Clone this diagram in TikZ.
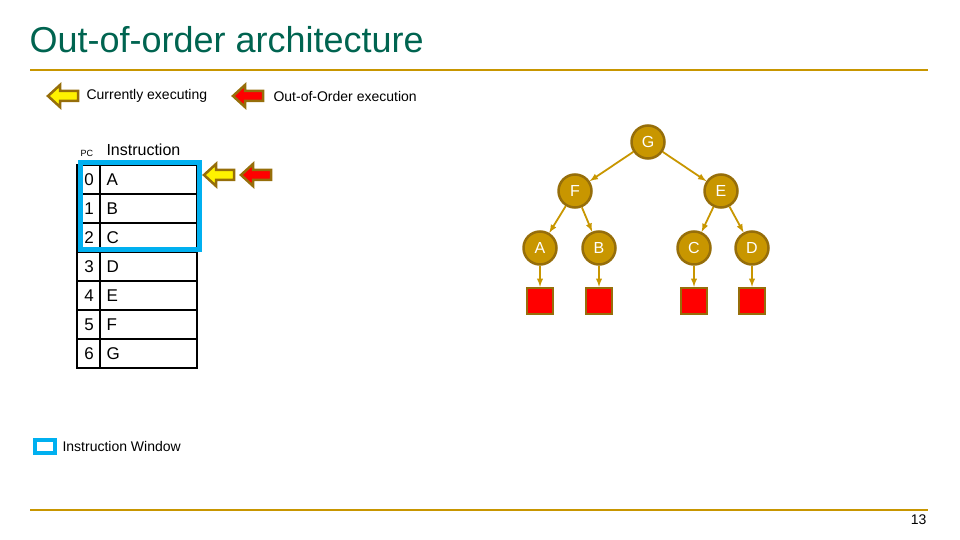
\documentclass[tikz,border=0pt]{standalone}
\usepackage{fontspec}
\setmainfont{Liberation Sans}
\usetikzlibrary{positioning}
\definecolor{gold}{RGB}{200,150,0}
\definecolor{rim}{RGB}{150,110,10}
\definecolor{winblue}{RGB}{0,176,240}
\newcommand{\larrow}[3]{% x, y, fill colour
  \filldraw[draw=rim,line width=2.5pt,fill=#3,line join=miter]
    (#1,#2) -- ++(12,-11) -- ++(0,6) -- ++(18,0) -- ++(0,10)
    -- ++(-18,0) -- ++(0,6) -- cycle;}
\begin{document}
\begin{tikzpicture}[x=1pt,y=-1pt,
  tnode/.style={circle,fill=gold,draw=rim,line width=2.5pt,minimum size=33pt,
    inner sep=0pt,text=white,font=\fontsize{16}{16}\selectfont},
  leaf/.style={rectangle,fill=red,draw=rim,line width=2.5pt,minimum size=26pt},
  edge/.style={gold,line width=1.8pt,-latex},
  cell/.style={draw=black,line width=1.5pt}]
\useasboundingbox (0,0) rectangle (960,540);
% title and rules
\node[anchor=west,font=\fontsize{36}{36}\selectfont,text={rgb,255:red,0;green,100;blue,80}] (title) at (26,40) {Out-of-order architecture};
\draw[gold,line width=2.5pt] (30,70) -- (928,70);
\draw[gold,line width=2.5pt] (30,510) -- (928,510);
\node[anchor=east,font=\fontsize{14}{14}\selectfont] (pg) at (930,520) {13};
% legend
\larrow{48}{96}{yellow}
\node[anchor=west,font=\fontsize{14}{14}\selectfont] (cur) at (83,96) {Currently executing};
\larrow{233}{96}{red}
\node[anchor=west,font=\fontsize{14}{14}\selectfont] (ooo) at (270,96) {Out-of-Order execution};
% table
\node[anchor=west,font=\fontsize{9}{9}\selectfont] (pc) at (77,153) {PC};
\node[anchor=west,font=\fontsize{16}{16}\selectfont] (ins) at (103,150) {Instruction};
\foreach \i/\l in {0/A,1/B,2/C,3/D,4/E,5/F,6/G}{
  \draw[cell] (77,165+29*\i) rectangle (197,194+29*\i);
  \draw[cell] (100,165+29*\i) -- (100,194+29*\i);
  \node[font=\fontsize{17}{17}\selectfont] (pc\i) at (89,179.5+29*\i) {\i};
  \node[anchor=west,font=\fontsize{17}{17}\selectfont] (in\i) at (103,179.5+29*\i) {\l};
}
\draw[winblue,line width=5pt] (80,163) rectangle (199,249);
\larrow{204}{175}{yellow}
\larrow{241}{175}{red}
% window legend
\draw[winblue,line width=4pt] (35,440) rectangle (55,453);
\node[anchor=west,font=\fontsize{14}{14}\selectfont] (win) at (59,446) {Instruction Window};
% tree
\node[tnode] (G) at (648,142) {G};
\node[tnode] (F) at (575,191) {F};
\node[tnode] (E) at (721,191) {E};
\node[tnode] (A) at (540,248) {A};
\node[tnode] (B) at (599,248) {B};
\node[tnode] (C) at (694,248) {C};
\node[tnode] (D) at (752,248) {D};
\foreach \n in {A,B,C,D}{
  \node[leaf] (s\n) at ([yshift=-53]\n) {};
  \draw[edge] (\n) -- (s\n);
}
\draw[edge] (G) -- (F);
\draw[edge] (G) -- (E);
\draw[edge] (F) -- (A);
\draw[edge] (F) -- (B);
\draw[edge] (E) -- (C);
\draw[edge] (E) -- (D);
\end{tikzpicture}
\end{document}
